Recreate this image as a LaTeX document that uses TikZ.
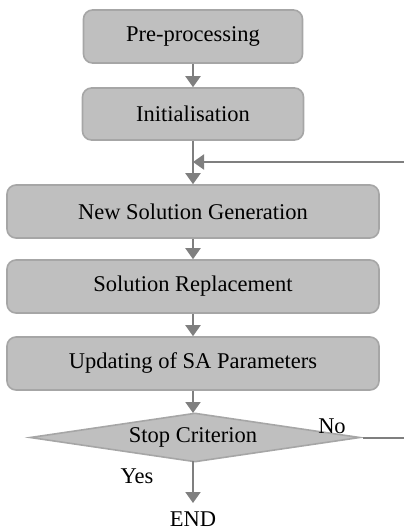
\documentclass[tikz,border=0pt]{standalone}
\usepackage{fontspec}
\setmainfont{Liberation Serif}
\usetikzlibrary{shapes.geometric,arrows.meta}
\definecolor{boxfill}{HTML}{BFBFBF}
\definecolor{boxline}{HTML}{A6A6A6}
\definecolor{arrowc}{HTML}{7F7F7F}
\begin{document}
\begin{tikzpicture}[x=1pt,y=-1pt,
  every node/.style={font=\fontsize{22.5}{26}\selectfont},
  procbox/.style={draw=boxline,fill=boxfill,line width=1.6pt,rounded corners=9pt,inner sep=0pt},
  decbox/.style={draw=boxline,fill=boxfill,line width=1.6pt,diamond,inner sep=0pt,minimum width=330pt,minimum height=49pt},
  flow/.style={draw=arrowc,line width=2pt,-{Triangle[width=15pt,length=11pt]}},
  plain/.style={draw=arrowc,line width=2pt}]
\useasboundingbox (0,0) rectangle (404,531);
\node[procbox,minimum width=219pt,minimum height=53pt] (pre) at (193,36.5) {Pre-processing};
\node[procbox,minimum width=221pt,minimum height=52pt] (init) at (193,114) {Initialisation};
\node[procbox,minimum width=372pt,minimum height=53pt] (gen) at (193,211.5) {New Solution Generation};
\node[procbox,minimum width=372pt,minimum height=53pt] (rep) at (193,286.5) {Solution Replacement};
\node[procbox,minimum width=372pt,minimum height=53pt] (upd) at (193,363.5) {Updating of SA Parameters};
\node[decbox] (stop) at (195,437.5) {};
\node (stoptxt) at (193,437) {Stop Criterion};
\node (no) at (332,426) {No};
\node (yes) at (137,476) {Yes};
\node (end) at (193,519) {END};
\coordinate (fbin) at (193,162);
\coordinate (fbr) at (404,162);
\coordinate (nor) at (404,438);
\coordinate (nol) at (363,438);
\coordinate (stopb) at (193,461);
\coordinate (endtop) at (193,503);
\path[flow] (pre.south) -- (init.north);
\path[flow] (init.south) -- (gen.north);
\path[flow] (fbr) -- (fbin);
\path[flow] (gen.south) -- (rep.north);
\path[flow] (rep.south) -- (upd.north);
\path[flow] (upd.south) -- (193,413);
\path[flow] (stopb) -- (endtop);
\path[plain] (nol) -- (nor);
\end{tikzpicture}
\end{document}
